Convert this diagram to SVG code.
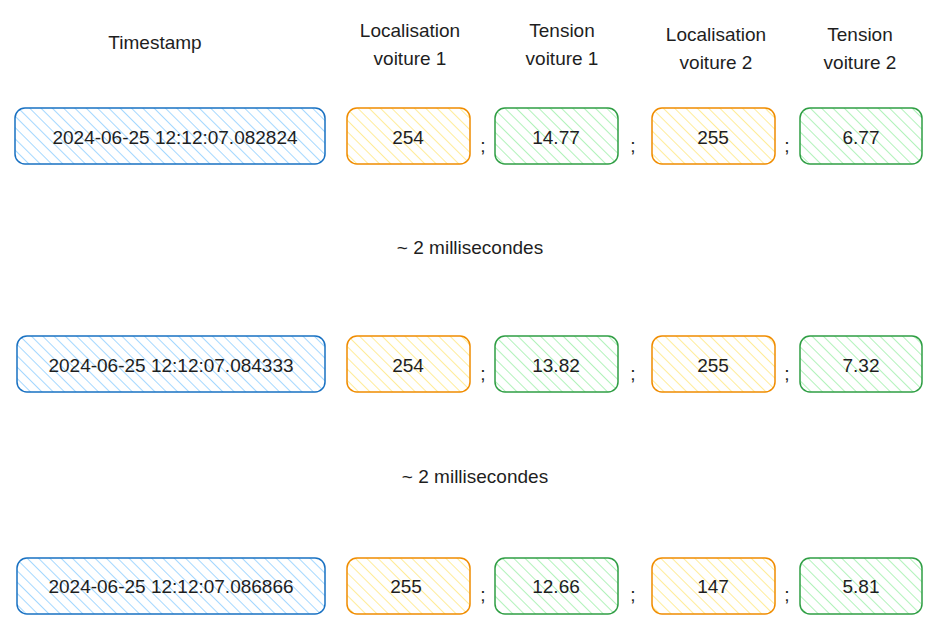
<svg xmlns="http://www.w3.org/2000/svg" width="945" height="632" viewBox="0 0 945 632">
<defs>
<pattern id="hb" width="8" height="8" patternUnits="userSpaceOnUse" patternTransform="rotate(-45)"><rect width="8" height="8" fill="#ffffff"/><line x1="0" y1="0" x2="0" y2="8" stroke="#a5d8ff" stroke-width="2"/></pattern>
<pattern id="ho" width="8" height="8" patternUnits="userSpaceOnUse" patternTransform="rotate(-45)"><rect width="8" height="8" fill="#ffffff"/><line x1="0" y1="0" x2="0" y2="8" stroke="#ffec99" stroke-width="2"/></pattern>
<pattern id="hg" width="8" height="8" patternUnits="userSpaceOnUse" patternTransform="rotate(-45)"><rect width="8" height="8" fill="#ffffff"/><line x1="0" y1="0" x2="0" y2="8" stroke="#b2f2bb" stroke-width="2"/></pattern>
</defs>
<style>
text{font-family:"Liberation Sans",Arial,sans-serif;font-size:19px;fill:#1e1e1e;text-anchor:middle;dominant-baseline:central}
.b{fill:url(#hb);stroke:#1971c2;stroke-width:1.5}
.o{fill:url(#ho);stroke:#f08c00;stroke-width:1.5}
.g{fill:url(#hg);stroke:#2f9e44;stroke-width:1.5}
</style>
<rect width="945" height="632" fill="#fff"/>
<g id="headers">
<text x="155" y="42">Timestamp</text>
<text x="410" y="30">Localisation</text><text x="410" y="58">voiture 1</text>
<text x="562" y="30">Tension</text><text x="562" y="58">voiture 1</text>
<text x="716" y="34">Localisation</text><text x="716" y="62">voiture 2</text>
<text x="860" y="34">Tension</text><text x="860" y="62">voiture 2</text>
</g>
<g id="gap1"><text x="470" y="247">~ 2 millisecondes</text></g>
<g id="gap2"><text x="475" y="476">~ 2 millisecondes</text></g>
<g id="row1">
<rect class="b" x="15" y="108" width="310" height="56" rx="10"/><text x="175" y="137">2024-06-25 12:12:07.082824</text>
<rect class="o" x="347" y="108" width="123" height="56" rx="10"/><text x="408" y="137">254</text>
<rect class="g" x="495" y="108" width="123" height="56" rx="10"/><text x="556" y="137">14.77</text>
<rect class="o" x="652" y="108" width="123" height="56" rx="10"/><text x="713" y="137">255</text>
<rect class="g" x="800" y="108" width="122" height="56" rx="10"/><text x="861" y="137">6.77</text>
<text x="483" y="145">;</text><text x="633" y="145">;</text><text x="787" y="145">;</text>
</g>
<g id="row2">
<rect class="b" x="17" y="336" width="308" height="56" rx="10"/><text x="171" y="365">2024-06-25 12:12:07.084333</text>
<rect class="o" x="347" y="336" width="123" height="56" rx="10"/><text x="408" y="365">254</text>
<rect class="g" x="495" y="336" width="123" height="56" rx="10"/><text x="556" y="365">13.82</text>
<rect class="o" x="652" y="336" width="123" height="56" rx="10"/><text x="713" y="365">255</text>
<rect class="g" x="800" y="336" width="122" height="56" rx="10"/><text x="861" y="365">7.32</text>
<text x="483" y="373">;</text><text x="633" y="373">;</text><text x="787" y="373">;</text>
</g>
<g id="row3">
<rect class="b" x="17" y="558" width="308" height="56" rx="10"/><text x="171" y="586">2024-06-25 12:12:07.086866</text>
<rect class="o" x="347" y="558" width="123" height="56" rx="10"/><text x="406" y="586">255</text>
<rect class="g" x="495" y="558" width="123" height="56" rx="10"/><text x="556" y="586">12.66</text>
<rect class="o" x="652" y="558" width="123" height="56" rx="10"/><text x="713" y="586">147</text>
<rect class="g" x="800" y="558" width="122" height="56" rx="10"/><text x="861" y="586">5.81</text>
<text x="483" y="594">;</text><text x="633" y="594">;</text><text x="787" y="594">;</text>
</g>
<g id="connectors"/>
</svg>
